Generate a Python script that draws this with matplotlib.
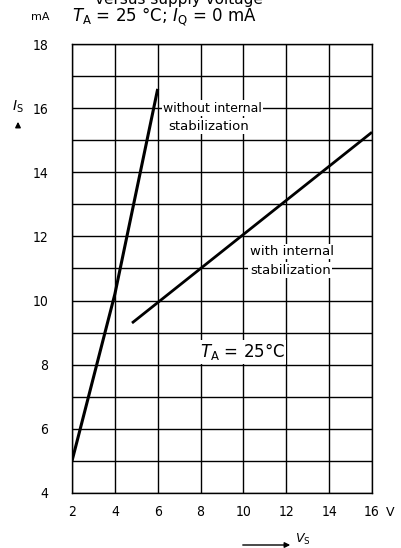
import matplotlib
matplotlib.use("Agg")
import matplotlib.pyplot as plt
import numpy as np

# supply current I_S (mA) vs supply voltage V_S (V)
vs_without = [2.0, 4.0, 6.0]
is_without = [5.0, 10.2, 16.6]
vs_with = [4.8, 16.0]
is_with = [9.3, 15.25]

x_ticks = [2, 4, 6, 8, 10, 12, 14, 16]
y_ticks = [4, 6, 8, 10, 12, 14, 16, 18]

plt.rcParams['font.family'] = ['DejaVu Sans']

fig = plt.figure(figsize=(4.01, 5.48), dpi=100)
ax = fig.add_axes([72 / 401, 55 / 548, 300 / 401, 449 / 548])

ax.set_xlim(2, 16)
ax.set_ylim(4, 18)
ax.set_xticks(x_ticks)
ax.set_yticks(y_ticks)
ax.set_yticks(np.arange(5, 18, 2), minor=True)
ax.grid(which='both', color='black', linewidth=1.0)
for s in ax.spines.values():
    s.set_linewidth(1.0)
ax.tick_params(which='both', length=0)
ax.tick_params(axis='y', pad=17, labelsize=10)
ax.tick_params(axis='x', pad=9, labelsize=10)
for lbl in ax.get_xticklabels() + ax.get_yticklabels():
    lbl.set_fontstretch('condensed')

ax.plot(vs_without, is_without, color='black', linewidth=2.2, solid_capstyle='butt')
ax.plot(vs_with, is_with, color='black', linewidth=2.0, solid_capstyle='butt')

box = dict(facecolor='white', edgecolor='none', pad=1.0)
ax.text(6.25, 16.0, 'without internal', fontsize=9, va='center', ha='left', bbox=box)
ax.text(6.5, 15.44, 'stabilization', fontsize=9.5, va='center', ha='left', bbox=box)
ax.text(10.3, 11.53, 'with internal', fontsize=9.5, va='center', ha='left', bbox=box)
ax.text(10.3, 10.94, 'stabilization', fontsize=9.5, va='center', ha='left', bbox=box)
ax.text(7.97, 8.4, r'$T_\mathrm{A}$ = 25°C', fontsize=12, va='center', ha='left', bbox=box)

# header text (cut off at the top like the scan)
fig.text(263 / 401, 1 - 4 / 548, 'versus supply voltage', fontsize=11, ha='right', va='baseline')
fig.text(72 / 401, 1 - 17 / 548, r'$T_\mathrm{A}$ = 25 °C; $I_\mathrm{Q}$ = 0 mA', fontsize=12,
         ha='left', va='center')
fig.text(50 / 401, 1 - 17 / 548, 'mA', fontsize=8, ha='right', va='center')

# axis labels
fig.text(18 / 401, 1 - 107 / 548, r'$I_\mathrm{S}$', fontsize=10, ha='center', va='center')
ax.annotate('', xy=(18 / 401, 1 - 119 / 548), xytext=(18 / 401, 1 - 129 / 548),
            xycoords='figure fraction',
            arrowprops=dict(arrowstyle='-|>', color='black', lw=1.0, mutation_scale=8))
fig.text(390 / 401, 1 - 513 / 548, 'V', fontsize=9, ha='center', va='center')
ax.annotate('', xy=(293 / 401, 1 - 545 / 548), xytext=(240 / 401, 1 - 545 / 548),
            xycoords='figure fraction',
            arrowprops=dict(arrowstyle='-|>', color='black', lw=1.0, mutation_scale=8))
fig.text(295 / 401, 1 - 539 / 548, r'$V_\mathrm{S}$', fontsize=9, ha='left', va='center')

fig.savefig('out.png', dpi=100)
